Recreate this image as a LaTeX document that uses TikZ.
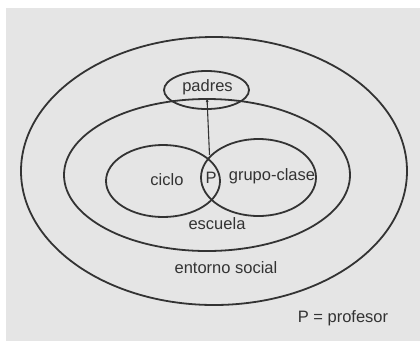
\documentclass[tikz,border=0pt]{standalone}
\usepackage{fontspec}
\setmainfont{Liberation Sans}
\usetikzlibrary{arrows.meta}
\begin{document}
\begin{tikzpicture}[x=1pt,y=-1pt,
  ring/.style={draw=black!80, line width=1.8pt},
  lbl/.style={text=black!80, font=\fontsize{16.5}{19}\selectfont, inner sep=0pt}]
\useasboundingbox (0,0) rectangle (420,341);
\fill[white] (0,0) rectangle (420,341);
\fill[black!10] (6,8) rectangle (420,341);
% ellipses
\draw[ring] (214,171) ellipse [x radius=193, y radius=134];
\draw[ring] (207,175) ellipse [x radius=143, y radius=76];
\draw[ring] (206.5,90) ellipse [x radius=42.5, y radius=19];
\draw[ring] (163,181) ellipse [x radius=57, y radius=36];
\draw[ring] (258.5,177.5) ellipse [x radius=57.5, y radius=38.5];
% labels
\node[lbl] (padres) at (207.5,87) {padres};
\node[lbl] (ciclo) at (167,180) {ciclo};
\node[lbl] (p) at (211,178) {P};
\node[lbl] (grupo) at (272,176) {grupo-clase};
\node[lbl] (escuela) at (217,224) {escuela};
\node[lbl] (entorno) at (226,268) {entorno social};
\node[lbl] (leyenda) at (343,318) {P = profesor};
% arrow
\coordinate (lens) at (209.5,155);
\coordinate (tip) at (207,98);
\draw[draw=black!80, line width=1.1pt, -{Latex[length=4pt,width=3pt]}] (lens) -- (tip);
\end{tikzpicture}
\end{document}
